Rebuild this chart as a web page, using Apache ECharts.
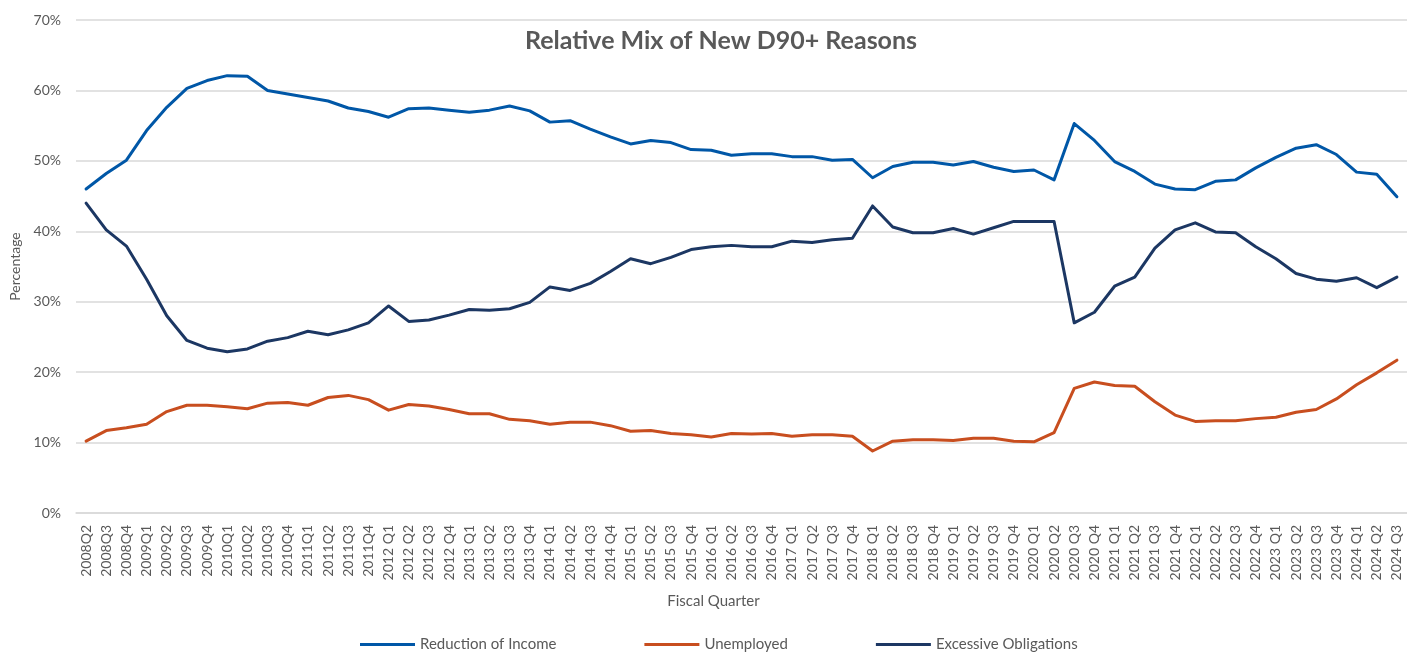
<!DOCTYPE html>
<html>
<head>
<meta charset="utf-8">
<script src="https://cdn.jsdelivr.net/npm/echarts@6/dist/echarts.min.js"></script>
<style>
  html, body { margin: 0; padding: 0; background: #fff; }
  #main { width: 1407px; height: 652px; }
</style>
</head>
<body>
<div id="main"></div>
<script>
  // quarters, same spelling as the source (space appears from 2012 on)
  let quarters = [
    '2008Q2', '2008Q3', '2008Q4',
    '2009Q1', '2009Q2', '2009Q3', '2009Q4',
    '2010Q1', '2010Q2', '2010Q3', '2010Q4',
    '2011Q1', '2011Q2', '2011Q3', '2011Q4'
  ];
  for (let y = 2012; y <= 2024; y++) {
    for (let q = 1; q <= 4; q++) {
      if (y === 2024 && q > 3) break;
      quarters.push(y + ' Q' + q);
    }
  }

  // percent of new D90+ cases
  let reductionOfIncome = [
    46.0, 48.2, 50.1,
    54.3, 57.6, 60.3, 61.4,
    62.1, 62.0, 60.0, 59.5,
    59.0, 58.5, 57.5, 57.0,
    56.2, 57.4, 57.5, 57.2,
    56.9, 57.2, 57.8, 57.1,
    55.5, 55.7, 54.5, 53.4,
    52.4, 52.9, 52.6, 51.6,
    51.5, 50.8, 51.0, 51.0,
    50.6, 50.6, 50.1, 50.2,
    47.6, 49.2, 49.8, 49.8,
    49.4, 49.9, 49.1, 48.5,
    48.7, 47.3, 55.3, 52.9,
    49.9, 48.5, 46.7, 46.0,
    45.9, 47.1, 47.3, 49.0,
    50.5, 51.8, 52.3, 50.9,
    48.4, 48.1, 44.9
  ];
  let unemployed = [
    10.2, 11.7, 12.1,
    12.6, 14.4, 15.3, 15.3,
    15.1, 14.8, 15.6, 15.7,
    15.3, 16.4, 16.7, 16.1,
    14.6, 15.4, 15.2, 14.7,
    14.1, 14.1, 13.3, 13.1,
    12.6, 12.9, 12.9, 12.4,
    11.6, 11.7, 11.3, 11.1,
    10.8, 11.3, 11.2, 11.3,
    10.9, 11.1, 11.1, 10.9,
    8.8, 10.2, 10.4, 10.4,
    10.3, 10.6, 10.6, 10.2,
    10.1, 11.4, 17.7, 18.6,
    18.1, 18.0, 15.8, 13.9,
    13.0, 13.1, 13.1, 13.4,
    13.6, 14.3, 14.7, 16.2,
    18.2, 19.9, 21.7
  ];
  let excessiveObligations = [
    44.0, 40.2, 37.9,
    33.2, 28.0, 24.5, 23.4,
    22.9, 23.3, 24.4, 24.9,
    25.8, 25.3, 26.0, 27.0,
    29.4, 27.2, 27.4, 28.1,
    28.9, 28.8, 29.0, 29.9,
    32.1, 31.6, 32.6, 34.3,
    36.1, 35.4, 36.3, 37.4,
    37.8, 38.0, 37.8, 37.8,
    38.6, 38.4, 38.8, 39.0,
    43.6, 40.6, 39.8, 39.8,
    40.4, 39.6, 40.5, 41.4,
    41.4, 41.4, 27.0, 28.5,
    32.2, 33.5, 37.6, 40.2,
    41.2, 39.9, 39.8, 37.8,
    36.1, 34.0, 33.2, 32.9,
    33.4, 32.0, 33.5
  ];

  let font = 'Lato, "Open Sans", sans-serif';
  let grey = '#595959';

  let chart = echarts.init(document.getElementById('main'));

  function line(name, data, color) {
    return {
      name: name,
      type: 'line',
      data: data,
      symbol: 'none',
      smooth: false,
      lineStyle: { color: color, width: 3, cap: 'round', join: 'round' },
      itemStyle: { color: color }
    };
  }

  let option = {
    animation: false,
    textStyle: { fontFamily: font },
    title: {
      text: 'Relative Mix of New D90+ Reasons',
      left: 716,
      top: 23,
      textAlign: 'center',
      textStyle: { color: grey, fontSize: 25, fontWeight: 'bold', fontFamily: font }
    },
    legend: {
      left: 355,
      top: 632,
      icon: 'rect',
      itemWidth: 55,
      itemHeight: 3,
      itemGap: 88,
      textStyle: { color: grey, fontSize: 15, fontFamily: font },
      data: ['Reduction of Income', 'Unemployed', 'Excessive Obligations']
    },
    grid: { left: 76, right: 0, top: 20, bottom: 139, containLabel: false, outerBoundsMode: 'none' },
    xAxis: {
      type: 'category',
      data: quarters,
      boundaryGap: true,
      name: 'Fiscal Quarter',
      nameLocation: 'middle',
      nameGap: 81,
      nameTextStyle: { color: grey, fontSize: 15, fontFamily: font, padding: [0, 56, 0, 0] },
      axisLine: { lineStyle: { color: '#d9d9d9', width: 1.5 } },
      axisTick: { show: false },
      axisLabel: { interval: 0, rotate: 90, margin: 12, color: grey, fontSize: 14, fontFamily: font }
    },
    yAxis: {
      type: 'value',
      min: 0,
      max: 70,
      interval: 10,
      name: 'Percentage',
      nameLocation: 'middle',
      nameGap: 54,
      nameTextStyle: { color: grey, fontSize: 14, fontFamily: font },
      axisLine: { show: false },
      axisTick: { show: false },
      axisLabel: { formatter: '{value}%', margin: 15, color: grey, fontSize: 14, fontFamily: font },
      splitLine: { lineStyle: { color: '#d9d9d9', width: 1.5 } }
    },
    series: [
      line('Reduction of Income', reductionOfIncome, '#0057A7'),
      line('Unemployed', unemployed, '#C84E1F'),
      line('Excessive Obligations', excessiveObligations, '#1C3763')
    ]
  };
  chart.setOption(option);
</script>
</body>
</html>
